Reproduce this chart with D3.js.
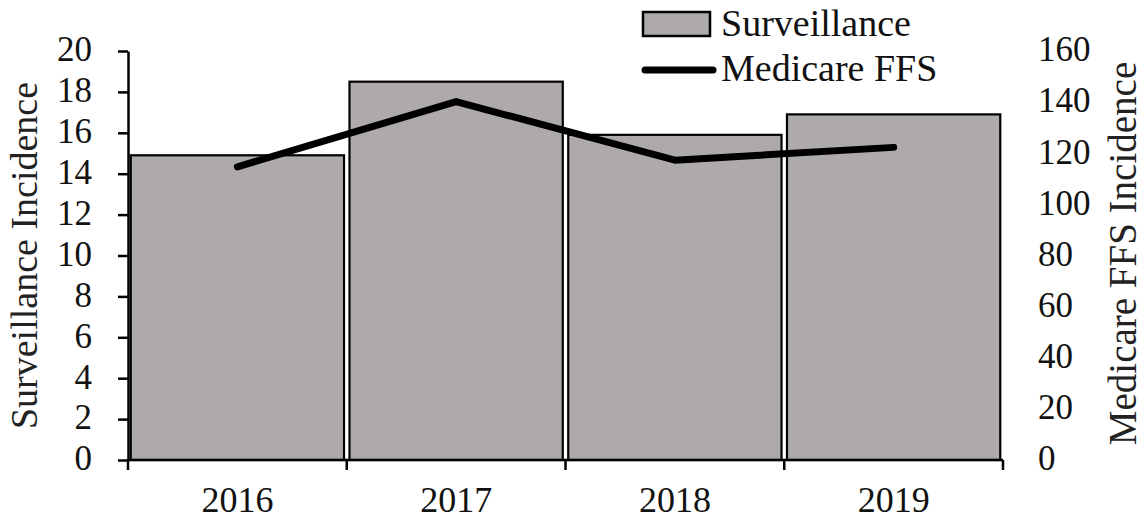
<!DOCTYPE html>
<html>
<head>
<meta charset="utf-8">
<script src="https://cdn.jsdelivr.net/npm/d3@7"></script>
<style>
  html, body { margin: 0; padding: 0; background: #fff; }
  svg { display: block; font-family: "Liberation Serif", "Times New Roman", serif; }
</style>
</head>
<body>
<svg id="chart" width="1146" height="520"></svg>
<script>
// Yearly incidence: surveillance (bars, left axis) and Medicare FFS (line, right axis)
const years = ["2016", "2017", "2018", "2019"];
const surveillance = [14.9, 18.5, 15.9, 16.9];
const medicareFFS = [114.7, 140.2, 117.3, 122.3];
const leftTicks = [0, 2, 4, 6, 8, 10, 12, 14, 16, 18, 20];
const rightTicks = [0, 20, 40, 60, 80, 100, 120, 140, 160];

const svg = d3.select("#chart");
const plot = { left: 128, right: 1003, top: 51, bottom: 460 };

const x = d3.scaleBand().domain(years)
  .range([plot.left, plot.right])
  .paddingInner(0.025).paddingOuter(0.0125);
const yL = d3.scaleLinear().domain([0, 20]).range([plot.bottom, plot.top]);
const yR = d3.scaleLinear().domain([0, 160]).range([plot.bottom, plot.top]);

// bars
svg.append("g").selectAll("rect").data(years).join("rect")
  .attr("x", d => x(d))
  .attr("width", x.bandwidth())
  .attr("y", (d, i) => yL(surveillance[i]))
  .attr("height", (d, i) => yL(0) - yL(surveillance[i]))
  .attr("fill", "#aeaaaa")
  .attr("stroke", "#000")
  .attr("stroke-width", 2.2);

// Medicare FFS line
const line = d3.line()
  .x((d, i) => x(years[i]) + x.bandwidth() / 2)
  .y(d => yR(d));
svg.append("path").datum(medicareFFS)
  .attr("d", line)
  .attr("fill", "none")
  .attr("stroke", "#000")
  .attr("stroke-width", 7)
  .attr("stroke-linecap", "round")
  .attr("stroke-linejoin", "round");

// left axis
const leftAxis = svg.append("g")
  .attr("transform", `translate(${plot.left},0)`)
  .call(d3.axisLeft(yL).tickValues(leftTicks).tickSize(10).tickPadding(26).tickSizeOuter(0));
leftAxis.select(".domain").attr("stroke", "#000").attr("stroke-width", 2.5);
leftAxis.selectAll(".tick line").attr("stroke", "#000").attr("stroke-width", 2.5);
leftAxis.selectAll(".tick text")
  .attr("font-family", "Liberation Serif, serif")
  .attr("font-size", 35).attr("fill", "#111").attr("dy", "0.28em");

// right axis: labels only
const rightAxis = svg.append("g")
  .attr("transform", `translate(${plot.right},0)`)
  .call(d3.axisRight(yR).tickValues(rightTicks).tickSize(0).tickPadding(35));
rightAxis.select(".domain").remove();
rightAxis.selectAll(".tick text")
  .attr("font-family", "Liberation Serif, serif")
  .attr("font-size", 35).attr("fill", "#111").attr("dy", "0.28em");

// category axis with ticks at band boundaries
const xAxis = svg.append("g").attr("transform", `translate(0,${plot.bottom})`);
xAxis.append("line")
  .attr("x1", plot.left).attr("x2", plot.right)
  .attr("stroke", "#000").attr("stroke-width", 2.5);
const boundaries = years.map(d => x(d) - x.step() * x.paddingInner() / 2);
boundaries[0] = plot.left;
boundaries.push(plot.right);
xAxis.selectAll("line.tk").data(boundaries).join("line")
  .attr("class", "tk")
  .attr("x1", d => d).attr("x2", d => d)
  .attr("y1", 0).attr("y2", 10)
  .attr("stroke", "#000").attr("stroke-width", 2.5);
xAxis.selectAll("text").data(years).join("text")
  .attr("x", d => x(d) + x.bandwidth() / 2)
  .attr("y", 52)
  .attr("text-anchor", "middle")
  .attr("font-size", 36).attr("fill", "#111")
  .text(d => d);

// axis titles
svg.append("text")
  .attr("transform", `translate(37,${(plot.top + plot.bottom) / 2}) rotate(-90)`)
  .attr("text-anchor", "middle")
  .attr("font-size", 38).attr("fill", "#222")
  .text("Surveillance Incidence");
svg.append("text")
  .attr("transform", `translate(1136,${(plot.top + plot.bottom) / 2 - 2}) rotate(-90)`)
  .attr("text-anchor", "middle")
  .attr("font-size", 39).attr("fill", "#222")
  .text("Medicare FFS Incidence");

// legend
const legend = svg.append("g");
legend.append("rect")
  .attr("x", 643).attr("y", 12).attr("width", 67).attr("height", 24)
  .attr("fill", "#aeaaaa").attr("stroke", "#000").attr("stroke-width", 2.5);
legend.append("text")
  .attr("x", 721).attr("y", 36)
  .attr("font-size", 38).attr("fill", "#111")
  .text("Surveillance");
legend.append("line")
  .attr("x1", 645).attr("x2", 713).attr("y1", 70).attr("y2", 70)
  .attr("stroke", "#000").attr("stroke-width", 7).attr("stroke-linecap", "round");
legend.append("text")
  .attr("x", 721).attr("y", 81)
  .attr("font-size", 38).attr("fill", "#111")
  .text("Medicare FFS");
</script>
</body>
</html>
